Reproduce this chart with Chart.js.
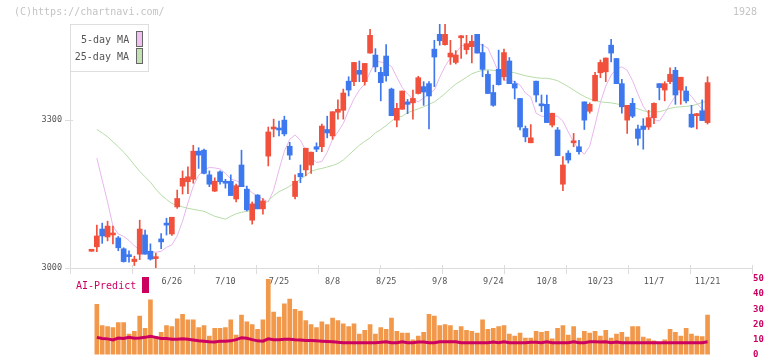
<!DOCTYPE html>
<html><head><meta charset="utf-8">
<script src="https://cdn.jsdelivr.net/npm/chart.js@4/dist/chart.umd.min.js"></script>
<style>
html,body{margin:0;padding:0;background:#fff;}
#wrap{position:relative;width:772px;height:361px;overflow:hidden;font-family:"DejaVu Sans Mono",monospace;}
canvas{position:absolute;left:0;}
#c1{top:0;} #c2{top:270px;}
.t{position:absolute;white-space:pre;line-height:10px;font-size:10px;}
</style></head><body>
<div id="wrap">
<canvas id="c1" width="772" height="300"></canvas>
<canvas id="c2" width="772" height="91"></canvas>
<div class="t" style="left:14px;top:7px;color:#c4c4c4">(C)https://chartnavi.com/</div>
<div class="t" style="left:733px;top:7px;color:#c4c4c4">1928</div>
<div style="position:absolute;left:70px;top:24px;width:77px;height:46px;border:1px solid #dedede;background:#fff;"></div>
<div class="t" style="left:81px;top:35px;width:48px;text-align:right;color:#555">5-day MA</div>
<div style="position:absolute;left:136px;top:31px;width:5px;height:14px;border:1px solid #666;background:#f0c0f0"></div>
<div class="t" style="left:69px;top:52px;width:60px;text-align:right;color:#555">25-day MA</div>
<div style="position:absolute;left:136px;top:48px;width:5px;height:14px;border:1px solid #666;background:#c2e2b2"></div>
<div class="t" style="left:76px;top:281px;color:#cc0060">AI-Predict</div>
<div style="position:absolute;left:142px;top:277px;width:7px;height:16px;background:#cc0060"></div>
</div>
<script>
// ---- data ----
const dateLabels = ['6/26','7/10','7/25','8/8','8/25','9/8','9/24','10/8','10/23','11/7','11/21'];
const dateLabelIdx = [15,25,35,45,55,65,75,85,95,105,115];
const opens  = [3034,3043,3079,3063,3067,3061,3039,3026,3013,3028,3067,3034,3019,3059,3090,3069,3124,3166,3175,3180,3237,3239,3189,3156,3195,3176,3176,3140,3209,3160,3097,3148,3120,3227,3282,3284,3300,3247,3145,3192,3199,3209,3246,3246,3281,3268,3316,3320,3379,3378,3401,3378,3436,3432,3397,3430,3363,3300,3322,3337,3335,3354,3368,3374,3444,3474,3453,3428,3417,3467,3443,3449,3474,3437,3393,3356,3403,3388,3420,3374,3344,3283,3254,3379,3332,3332,3290,3280,3170,3233,3254,3246,3337,3318,3339,3396,3398,3452,3425,3374,3300,3334,3282,3288,3286,3305,3374,3361,3378,3401,3361,3359,3312,3309,3319,3295];
const highs  = [3034,3087,3091,3095,3085,3064,3041,3035,3024,3097,3077,3049,3030,3070,3101,3103,3158,3197,3205,3249,3244,3241,3197,3183,3197,3180,3189,3170,3239,3166,3134,3149,3141,3286,3302,3298,3308,3255,3189,3209,3243,3235,3254,3292,3308,3317,3341,3363,3388,3417,3420,3415,3484,3445,3407,3453,3365,3334,3359,3342,3361,3389,3378,3378,3462,3495,3495,3462,3441,3472,3472,3472,3474,3454,3400,3371,3442,3444,3427,3379,3344,3288,3291,3379,3351,3351,3314,3285,3226,3238,3273,3259,3337,3335,3397,3422,3426,3464,3425,3383,3330,3344,3290,3303,3320,3335,3374,3378,3406,3407,3387,3368,3330,3314,3341,3388];
const lows   = [3034,3033,3050,3055,3049,3035,3012,3012,3005,3017,3028,3016,3000,3039,3067,3066,3121,3150,3151,3172,3202,3191,3165,3155,3170,3162,3147,3134,3165,3116,3089,3120,3109,3207,3266,3268,3268,3220,3140,3173,3187,3192,3236,3236,3264,3261,3302,3302,3349,3370,3378,3371,3436,3398,3339,3379,3309,3286,3322,3313,3302,3353,3330,3282,3368,3452,3452,3413,3414,3425,3434,3416,3436,3388,3354,3328,3371,3381,3374,3343,3280,3256,3254,3337,3317,3295,3286,3228,3157,3213,3246,3231,3281,3314,3339,3386,3378,3418,3374,3314,3273,3305,3249,3241,3281,3293,3341,3339,3374,3332,3332,3335,3285,3282,3299,3292];
const closes = [3034,3065,3065,3085,3070,3041,3013,3023,3018,3079,3028,3018,3021,3053,3087,3103,3141,3182,3185,3237,3229,3192,3170,3176,3175,3172,3147,3167,3165,3118,3130,3120,3136,3276,3284,3280,3272,3229,3176,3185,3243,3235,3241,3288,3274,3317,3322,3355,3361,3417,3393,3415,3472,3408,3376,3390,3309,3324,3359,3332,3344,3386,3357,3349,3428,3461,3474,3436,3432,3468,3455,3460,3436,3403,3354,3330,3372,3437,3374,3365,3286,3266,3264,3351,3329,3295,3314,3228,3209,3219,3257,3236,3300,3332,3391,3417,3426,3436,3374,3327,3330,3308,3263,3281,3305,3334,3366,3374,3393,3351,3387,3339,3286,3312,3299,3376];
const ma5  = [null,3223,3178,3134,3085,3069,3064,3056,3045,3037,3034,3033,3032,3034,3042,3047,3065,3095,3132,3166,3188,3199,3204,3203,3201,3192,3181,3177,3172,3162,3153,3146,3140,3134,3158,3199,3237,3261,3270,3259,3239,3223,3214,3216,3235,3261,3276,3293,3320,3343,3361,3373,3397,3419,3418,3415,3409,3387,3366,3353,3343,3337,3345,3354,3361,3387,3409,3426,3436,3450,3454,3455,3455,3452,3446,3422,3397,3381,3381,3378,3371,3355,3347,3314,3308,3307,3308,3308,3298,3276,3256,3240,3231,3247,3290,3336,3369,3391,3404,3408,3401,3380,3353,3328,3312,3301,3298,3314,3332,3349,3360,3359,3348,3334,3322,3318];
const ma25 = [null,3281,3274,3266,3256,3246,3235,3223,3209,3196,3185,3174,3160,3148,3139,3131,3127,3124,3121,3119,3117,3115,3110,3105,3102,3099,3105,3110,3113,3115,3117,3122,3128,3136,3147,3155,3160,3166,3173,3180,3188,3196,3200,3202,3205,3208,3212,3219,3229,3239,3249,3257,3264,3274,3281,3289,3298,3306,3308,3315,3319,3323,3327,3332,3337,3345,3354,3364,3373,3380,3387,3394,3398,3401,3402,3401,3400,3399,3398,3396,3393,3390,3388,3386,3385,3385,3383,3380,3374,3368,3361,3354,3348,3343,3340,3337,3336,3335,3333,3331,3329,3326,3323,3319,3317,3317,3317,3320,3324,3326,3327,3328,3329,3332,3336,3339];
const volume = [null,33.2,19.2,18.6,17.9,21.1,21.1,13.5,15.4,25.5,17.3,36.2,12.1,14.8,19.2,18.6,23.6,26.7,23.0,23.0,17.9,19.2,12.3,17.3,17.3,17.9,23.0,12.9,26.1,21.7,19.8,16.7,23.0,50,28.2,24.8,33.6,36.8,29.9,28.8,22.5,19.8,17.9,21.7,19.8,24.2,22.5,20.4,18.6,20.4,13.5,16.0,19.8,13.5,17.9,16.7,24.2,15.4,14.2,14.2,9.7,12.3,14.8,26.7,25.5,19.2,19.8,19.2,16.0,18.6,16.0,15.4,14.2,23.0,16.7,17.3,18.6,19.2,13.5,12.3,14.2,11.0,11.0,15.4,14.8,15.4,10.4,17.3,19.2,12.9,18.6,11.0,15.4,14.2,15.4,12.3,16.0,11.0,13.5,14.8,11.6,18.6,18.6,11.6,10.4,9.1,7.9,9.7,16.7,14.8,12.3,17.3,13.5,12.3,12.0,26.1];
const aiPredict = [null,11.4,10.6,10.4,9.7,11.0,10.6,11.4,10.8,11.0,11.4,12.1,11.4,10.6,10.6,10.2,10.2,10.4,10.2,9.7,9.1,8.9,8.5,8.3,8.9,8.9,9.1,9.9,11.2,10.8,9.9,9.1,8.9,10.4,9.9,9.9,10.2,10.2,9.9,9.7,9.3,9.3,9.1,8.9,8.7,8.5,8.1,7.9,7.9,7.9,7.9,7.9,7.9,7.9,8.1,8.5,7.9,7.9,8.5,7.9,7.9,8.3,8.3,7.9,7.9,8.5,8.5,8.5,8.5,7.9,7.9,7.9,7.9,7.9,7.9,8.3,7.9,8.5,7.9,7.9,7.9,7.9,8.1,8.1,7.9,8.5,7.9,7.9,7.9,7.9,8.5,7.9,7.9,8.5,8.5,8.3,8.5,7.9,8.3,7.9,7.9,7.9,7.9,7.9,7.9,7.9,7.9,7.9,7.9,7.9,7.9,7.9,7.9,7.9,7.9,8.5];
const priceTicks = [3000, 3300];
const volTicks = [0, 10, 20, 30, 40, 50];

// ---- layout ----
const UP = '#f0503c', DOWN = '#3e78ee';
const X_MIN = (70 - 91.5) / 5.357, X_MAX = (752 - 91.5) / 5.357;
const gridTicks = Array.from({length: 12}, (_, k) => X_MIN + k * (X_MAX - X_MIN) / 11);
const gridSet = new Set(gridTicks);
const labelMap = new Map(dateLabelIdx.map((v, k) => [v, dateLabels[k]]));
const allTicks = gridTicks.concat(dateLabelIdx).sort((a, b) => a - b);
const idx = closes.map((_, i) => i);
const colors = idx.map(i => closes[i] >= opens[i] ? UP : DOWN);
const FONT = '"DejaVu Sans Mono", monospace';

// small inner tick stubs so that ticks cross the axis lines, as in the original
const tickStubs = {
  id: 'tickStubs',
  afterDraw(chart) {
    const {ctx, chartArea: a, scales: {x, y}} = chart;
    ctx.save();
    ctx.strokeStyle = '#dcdcdc';
    ctx.lineWidth = 1;
    ctx.beginPath();
    gridTicks.forEach(v => {
      const px = Math.round(x.getPixelForValue(v)) + 0.5;
      ctx.moveTo(px, a.bottom - 3); ctx.lineTo(px, a.bottom);
    });
    priceTicks.forEach(v => {
      const py = Math.round(y.getPixelForValue(v)) + 0.5;
      ctx.moveTo(a.left, py); ctx.lineTo(a.left + 3, py);
    });
    ctx.stroke();
    ctx.restore();
  }
};

new Chart(document.getElementById('c1'), {
  type: 'bar',
  data: {
    datasets: [
      {type: 'line', data: idx.map(i => ({x: i, y: ma5[i]})), borderColor: '#e9b6ef', borderWidth: 1, pointRadius: 0, tension: 0, order: 4},
      {type: 'line', data: idx.map(i => ({x: i, y: ma25[i]})), borderColor: '#b6dca6', borderWidth: 1, pointRadius: 0, tension: 0, order: 3},
      {type: 'bar', data: idx.map(i => ({x: i, y: [lows[i], highs[i]]})), backgroundColor: colors, barThickness: 1, minBarLength: 1, grouped: false, order: 2},
      {type: 'bar', data: idx.map(i => ({x: i, y: [opens[i], closes[i]]})), backgroundColor: colors, barThickness: 5, minBarLength: 2, grouped: false, order: 1}
    ]
  },
  options: {
    responsive: false, animation: false, devicePixelRatio: 1,
    layout: {padding: {left: 0, right: 20, top: 24, bottom: 0}},
    plugins: {legend: {display: false}, tooltip: {enabled: false}},
    scales: {
      x: {
        type: 'linear', min: X_MIN, max: X_MAX, offset: false,
        afterBuildTicks: s => { s.ticks = allTicks.map(v => ({value: v})); },
        afterFit: s => { s.height = 32; },
        grid: {drawOnChartArea: false, drawTicks: true, tickLength: 6, offset: false,
               color: c => (c.tick && gridSet.has(c.tick.value)) ? '#dcdcdc' : 'rgba(0,0,0,0)'},
        border: {display: true, color: '#dcdcdc'},
        ticks: {autoSkip: false, maxRotation: 0, minRotation: 0, padding: 3, color: '#555',
                font: {family: FONT, size: 8.5}, callback: v => labelMap.get(v) || ''}
      },
      y: {
        type: 'linear', position: 'left', min: 3000, max: 3495,
        afterBuildTicks: s => { s.ticks = priceTicks.map(v => ({value: v})); },
        afterFit: s => { s.width = 70; },
        grid: {drawOnChartArea: false, tickLength: 5, color: '#dcdcdc'},
        border: {display: true, color: '#dcdcdc'},
        ticks: {padding: 3, color: '#555', font: {family: FONT, size: 8.5}, callback: v => String(v)}
      }
    }
  },
  plugins: [tickStubs]
});

new Chart(document.getElementById('c2'), {
  type: 'bar',
  data: {
    datasets: [
      {type: 'line', data: idx.map(i => ({x: i, y: aiPredict[i]})), borderColor: '#cc0060', borderWidth: 3, pointRadius: 0, tension: 0, order: 1},
      {type: 'bar', data: idx.map(i => ({x: i, y: volume[i]})), backgroundColor: '#f2984a', barThickness: 4, order: 2}
    ]
  },
  options: {
    responsive: false, animation: false, devicePixelRatio: 1,
    layout: {padding: {left: 70, right: 0, top: 9, bottom: 2.5}},
    plugins: {legend: {display: false}, tooltip: {enabled: false}},
    scales: {
      x: {type: 'linear', min: X_MIN, max: X_MAX, offset: false, display: false},
      y: {
        type: 'linear', position: 'right', min: 0, max: 50,
        afterBuildTicks: s => { s.ticks = volTicks.map(v => ({value: v})); },
        afterFit: s => { s.width = 20; },
        grid: {display: false, drawTicks: false},
        border: {display: false},
        ticks: {padding: 1, color: '#cc0060', font: {family: FONT, size: 9, weight: 'bold'}, callback: v => String(v)}
      }
    }
  }
});
</script>
</body></html>
